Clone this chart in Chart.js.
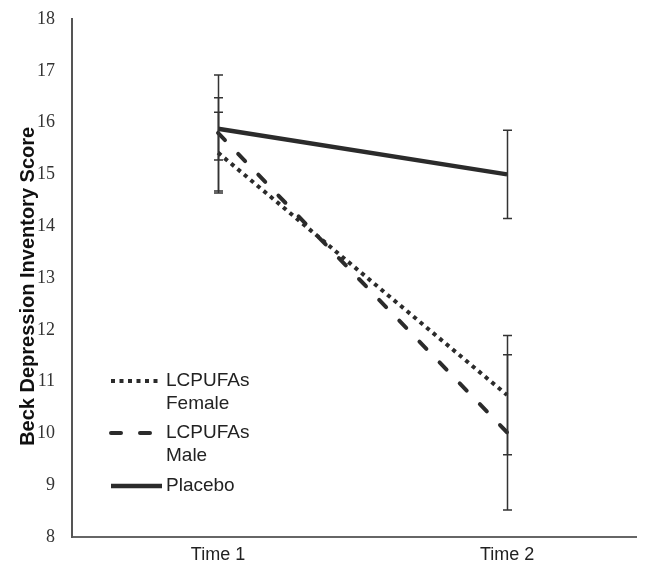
<!DOCTYPE html>
<html>
<head>
<meta charset="utf-8">
<script src="https://cdn.jsdelivr.net/npm/chart.js@4"></script>
<style>
	html, body { margin: 0; padding: 0; background: #fff; }
	#wrap { width: 647px; height: 566px; }
</style>
</head>
<body>
<div id="wrap"><canvas id="chart"></canvas></div>
<script>
const timeLabels = ["Time 1", "Time 2"]
const femaleMeans = [15.42, 10.74]
const femaleErrors = [0.78, 1.15]
const maleMeans = [15.8, 10.02]
const maleErrors = [1.12, 1.5]
const placeboMeans = [15.88, 15.0]
const placeboErrors = [0.6, 0.85]

const ink = "#2b2b2b"

function points(means) {
	return means.map((y, i) => ({ x: i + 1, y: y }))
}

// error bars drawn through the scales
const errorBars = {
	id: "errorBars",
	afterDatasetsDraw(chart) {
		const ctx = chart.ctx
		const xs = chart.scales.x
		const ys = chart.scales.y
		ctx.save()
		ctx.strokeStyle = "#333"
		ctx.lineWidth = 1.5
		chart.data.datasets.forEach(ds => {
			ds.data.forEach((p, i) => {
				const err = ds.errors[i]
				const x = Math.round(xs.getPixelForValue(p.x)) + 0.5
				const top = ys.getPixelForValue(p.y + err)
				const bottom = ys.getPixelForValue(p.y - err)
				ctx.beginPath()
				ctx.moveTo(x, top)
				ctx.lineTo(x, bottom)
				ctx.moveTo(x - 4.5, top)
				ctx.lineTo(x + 4.5, top)
				ctx.moveTo(x - 4.5, bottom)
				ctx.lineTo(x + 4.5, bottom)
				ctx.stroke()
			})
		})
		ctx.restore()
	}
}

// legend sits inside the plot, labels wrap on two lines
const insideLegend = {
	id: "insideLegend",
	afterDraw(chart) {
		const ctx = chart.ctx
		const rows = [
			{ ds: chart.data.datasets[0], y: 381, lines: ["LCPUFAs", "Female"] },
			{ ds: chart.data.datasets[1], y: 433, lines: ["LCPUFAs", "Male"] },
			{ ds: chart.data.datasets[2], y: 486, lines: ["Placebo"] },
		]
		ctx.save()
		rows.forEach(row => {
			ctx.strokeStyle = row.ds.borderColor
			ctx.lineWidth = row.ds.borderWidth
			ctx.setLineDash(row.ds.borderDash || [])
			ctx.lineCap = row.ds.borderCapStyle || "butt"
			ctx.beginPath()
			ctx.moveTo(111, row.y)
			ctx.lineTo(162, row.y)
			ctx.stroke()
			ctx.setLineDash([])
			ctx.fillStyle = "#222"
			ctx.font = "19px 'Liberation Sans', Arial, sans-serif"
			ctx.textBaseline = "middle"
			row.lines.forEach((t, k) => {
				ctx.fillText(t, 166, row.y + k * 23)
			})
		})
		ctx.restore()
	}
}

new Chart(document.getElementById("chart"), {
	type: "line",
	data: {
		datasets: [{
			label: "LCPUFAs Female",
			data: points(femaleMeans),
			errors: femaleErrors,
			borderColor: ink,
			borderWidth: 4,
			borderDash: [4, 4.5],
		}, {
			label: "LCPUFAs Male",
			data: points(maleMeans),
			errors: maleErrors,
			borderColor: ink,
			borderWidth: 4,
			borderDash: [10, 19],
			borderCapStyle: "round",
		}, {
			label: "Placebo",
			data: points(placeboMeans),
			errors: placeboErrors,
			borderColor: ink,
			borderWidth: 4.5,
		}],
	},
	options: {
		responsive: true,
		maintainAspectRatio: false,
		animation: false,
		elements: {
			point: { radius: 0 },
			line: { tension: 0 },
		},
		layout: {
			padding: { top: 19, right: 11, left: 0, bottom: 0 },
		},
		plugins: {
			legend: { display: false },
			tooltip: { enabled: false },
		},
		scales: {
			x: {
				type: "linear",
				min: 0.4948,
				max: 2.446,
				afterBuildTicks: scale => {
					scale.ticks = timeLabels.map((t, i) => ({ value: i + 1 }))
				},
				afterFit: scale => { scale.height = 29 },
				grid: { display: false, drawTicks: false },
				border: { color: "#666", width: 2 },
				ticks: {
					padding: 7,
					color: "#222",
					font: { family: "'Liberation Sans', Arial, sans-serif", size: 18 },
					callback: v => timeLabels[v - 1],
				},
			},
			y: {
				min: 8,
				max: 18,
				afterFit: scale => { scale.width = 72 },
				// invisible tick marks keep the labels off the axis line
				grid: { display: true, drawOnChartArea: false, drawTicks: true, tickLength: 10, color: "rgba(0,0,0,0)" },
				border: { color: "#555", width: 2 },
				ticks: {
					stepSize: 1,
					padding: 7,
					color: "#333",
					font: { family: "'Liberation Serif', 'Times New Roman', serif", size: 18 },
				},
				title: {
					display: true,
					text: "Beck Depression Inventory Score   ",
					color: "#111",
					font: { family: "'Liberation Sans', Arial, sans-serif", size: 20, weight: "bold" },
					padding: { top: 16, bottom: 0 },
				},
			},
		},
	},
	plugins: [errorBars, insideLegend],
})
</script>
</body>
</html>
